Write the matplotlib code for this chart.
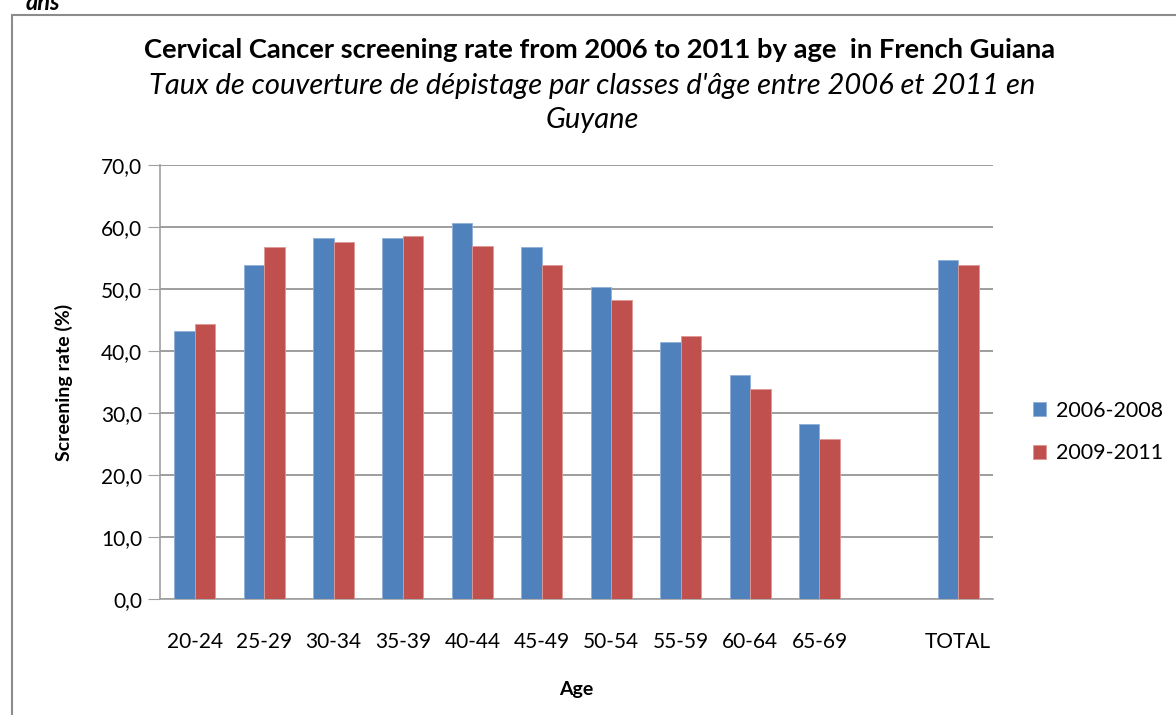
import matplotlib
matplotlib.use("Agg")
import matplotlib.pyplot as plt
import numpy as np
from matplotlib.patches import Rectangle

categories = ["20-24", "25-29", "30-34", "35-39", "40-44", "45-49", "50-54",
              "55-59", "60-64", "65-69", "", "TOTAL"]
s2006 = [43.2, 53.8, 58.2, 58.3, 60.7, 56.7, 50.4, 41.5, 36.1, 28.2, np.nan, 54.7]
s2009 = [44.4, 56.7, 57.6, 58.5, 56.9, 53.8, 48.2, 42.5, 33.9, 25.8, np.nan, 53.8]
series_names = ["2006-2008", "2009-2011"]
yticks = [0, 10, 20, 30, 40, 50, 60, 70]

blue = "#4F81BD"
red = "#C0504D"
FONT = ["Lato", "DejaVu Sans"]
plt.rcParams['font.family'] = FONT

W, H = 1176, 715
fig = plt.figure(figsize=(W / 100, H / 100), dpi=100)

# outer frame
fig.patches.append(Rectangle((12 / W, -0.05), 1.1, (H - 15) / H + 0.05,
                             transform=fig.transFigure, fill=False,
                             edgecolor="#8c8c8c", linewidth=1.5))
fig.text(26 / W, 1 - 2 / H, "ans", ha="left", va="center", fontsize=17,
         fontweight="bold", style="italic", color="black")

ax = fig.add_axes([160 / W, (H - 599) / H, 833 / W, (599 - 165) / H])
x = np.arange(len(categories))
bw = 0.295
ax.bar(x - bw / 2, s2006, bw, color=blue, edgecolor="#8fb0d9", linewidth=0.6,
       label=series_names[0], zorder=3)
ax.bar(x + bw / 2, s2009, bw, color=red, edgecolor="#e09896", linewidth=0.6,
       label=series_names[1], zorder=3)

ax.set_xlim(-0.5, len(categories) - 0.5)
ax.set_ylim(0, 70)
ax.set_yticks(yticks)
ax.set_yticklabels([f"{v:.1f}".replace(".", ",") for v in yticks], fontsize=15)
ax.set_xticks(x)
ax.set_xticklabels(categories, fontsize=15)
ax.tick_params(axis="x", length=0, pad=24)
ax.tick_params(axis="y", length=9, color="#a0a0a0", pad=4)
ax.grid(axis="y", color="#8c8c8c", linewidth=1.2, zorder=0)
for s in ["top", "right"]:
    ax.spines[s].set_visible(False)
ax.spines["left"].set_color("#a0a0a0")
ax.spines["bottom"].set_color("#a0a0a0")
ax.spines["left"].set_linewidth(1.2)
ax.spines["bottom"].set_linewidth(1.2)
ax.set_axisbelow(True)

ax.set_ylabel("Screening rate (%)", fontsize=14, fontweight="bold", labelpad=20)
ax.set_xlabel("Age", fontsize=14, fontweight="bold", labelpad=21)

fig.text(600 / W, 1 - 50 / H,
         "Cervical Cancer screening rate from 2006 to 2011 by age  in French Guiana",
         ha="center", va="center", fontsize=19.7, fontweight="bold")
fig.text(592 / W, 1 - 86 / H,
         "Taux de couverture de dépistage par classes d'âge entre 2006 et 2011 en",
         ha="center", va="center", fontsize=21, style="italic")
fig.text(592 / W, 1 - 120 / H, "Guyane",
         ha="center", va="center", fontsize=21, style="italic")

fig.legend(loc="center left", bbox_to_anchor=(1014 / W, 1 - 432 / H),
           frameon=False, fontsize=15.5, handlelength=0.6, handleheight=0.6,
           labelspacing=1.05, handletextpad=0.45)

fig.savefig("out.png", dpi=100)
